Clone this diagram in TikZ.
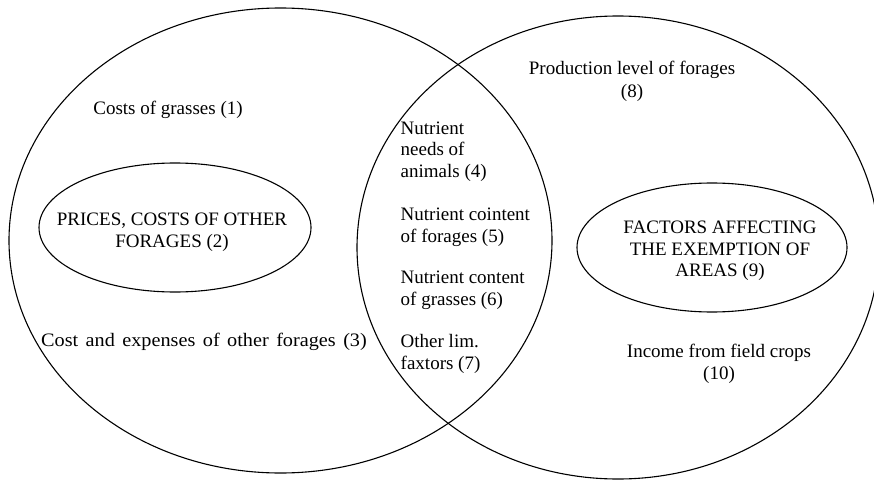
\documentclass[tikz,border=0pt]{standalone}
\usepackage{fontspec}
\setmainfont{Liberation Serif}
\usetikzlibrary{shapes.geometric}
\begin{document}
\begin{tikzpicture}[x=1pt,y=-1pt,
  ring/.style={draw=black,line width=1.1pt},
  lbl/.style={inner sep=0pt,font=\fontsize{19}{21.5}\selectfont},
  lblc/.style={lbl,align=center},
  lbll/.style={lbl,align=left,anchor=west}]
\useasboundingbox (0,0) rectangle (874,481);
\fill[white] (0,0) rectangle (874,481);
% outer sets
\draw[ring] (280.5,240.5) ellipse [x radius=271.5, y radius=232.5];
\draw[ring] (618,247.5) ellipse [x radius=261, y radius=231.5];
% inner ellipses
\draw[ring] (175,227.5) ellipse [x radius=136, y radius=64.5];
\draw[ring] (712,247.5) ellipse [x radius=135, y radius=64.5];
% left texts
\node[lblc] (t1) at (168,110) {Costs of grasses (1)};
\node[lblc] (t2) at (172,232) {PRICES, COSTS OF OTHER\\FORAGES (2)};
\node[lblc] (t3) at (204,342) {\scalebox{1.065}[1]{\spaceskip=7pt Cost and expenses of other forages (3)}};
% middle texts
\node[lbll] (t4) at (400.5,151.5) {Nutrient\\needs of\\animals (4)};
\node[lbll] (t5) at (400.5,227.5) {Nutrient cointent\\of forages (5)};
\node[lbll] (t6) at (400.5,290.5) {Nutrient content\\of grasses (6)};
\node[lbll] (t7) at (400.5,354) {Other lim.\\faxtors (7)};
% right texts
\node[lblc] (t8) at (632,81.5) {Production level of forages\\[1.5pt](8)};
\node[lblc] (t9) at (720,251) {FACTORS AFFECTING\\THE EXEMPTION OF\\AREAS (9)};
\node[lblc] (t10) at (719,364) {Income from field crops\\(10)};
\end{tikzpicture}
\end{document}
